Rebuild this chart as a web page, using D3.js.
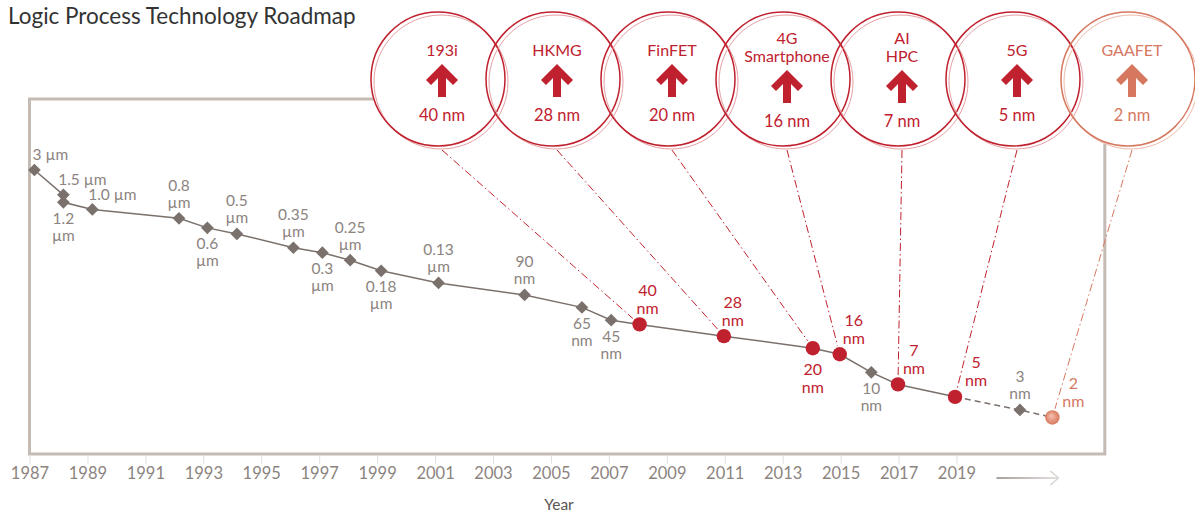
<!DOCTYPE html>
<html>
<head>
<meta charset="utf-8">
<script src="https://cdn.jsdelivr.net/npm/d3@7"></script>
<style>
  body { margin: 0; background: #fff; }
  svg { display: block; font-family: Lato, "Open Sans", sans-serif; }
</style>
</head>
<body>
<svg id="chart" width="1195" height="512"></svg>
<script>
// ---- data ----
// node year (decimal) and position on the hidden vertical axis (0..100)
var nodeYears  = [1987.17, 1988.17, 1988.17, 1989.17, 1992.16, 1993.14, 1994.16, 1996.11, 1997.11, 1998.07, 1999.14, 2001.12,
                  2004.09, 2006.07, 2007.08, 2008.06, 2010.97, 2014.04, 2014.97, 2016.06, 2016.98, 2018.95, 2021.19, 2022.31];
var nodeLevels = [80.0, 73.0, 70.9, 68.9, 66.4, 63.7, 62.0, 58.1, 56.7, 54.6, 51.6, 48.2,
                  44.8, 41.3, 37.7, 36.5, 33.2, 29.8, 28.1, 23.0, 19.6, 16.1, 12.4, 10.3];
var nodeNames  = ["3 µm", "1.5 µm", "1.2\nµm", "1.0 µm", "0.8\nµm", "0.6\nµm", "0.5\nµm", "0.35\nµm", "0.3\nµm", "0.25\nµm", "0.18\nµm", "0.13\nµm",
                  "90\nnm", "65\nnm", "45\nnm", "40\nnm", "28\nnm", "20\nnm", "16\nnm", "10\nnm", "7\nnm", "5\nnm", "3\nnm", "2\nnm"];
// std = grey diamond, key = red milestone, next = upcoming milestone
var nodeKinds  = ["std","std","std","std","std","std","std","std","std","std","std","std",
                  "std","std","std","key","key","key","key","std","key","key","std","next"];
var lastSolid = 21; // line turns dashed after 5 nm

var yearTicks = d3.range(1987, 2020, 2);

var calloutTech  = ["193i", "HKMG", "FinFET", "4G\nSmartphone", "AI\nHPC", "5G", "GAAFET"];
var calloutNode  = ["40 nm", "28 nm", "20 nm", "16 nm", "7 nm", "5 nm", "2 nm"];
var calloutIndex = [15, 16, 17, 18, 20, 21, 23];

// ---- layout (label placement, not data) ----
var labelPlace = ["ar","ar","b","ar","a","b","a","a","b","a","b","a",
                  "a","b","b","ar","ar","b","ar","b","ar","ar","a","ar"];
var labelDx    = [16,19,0,20,0,0,0,0,0,0,0,0,
                  0,0,0,8,9,0,14,0,16,21,0,21];

var RED = "#c0212e", RED_LIGHT = "#e6a0a4";
var SALMON = "#d6785f", SALMON_LIGHT = "#eebaaa";
var GREY = "#7b716c", GREY_TEXT = "#8c8480";
var BOX = "#c4bbb5";

var svg = d3.select("#chart");

var BOX_TOP = 99, BOX_BOTTOM = 454, BOX_END = 2024.12;

var x = d3.scaleLinear().domain([1987, 2019]).range([29.5, 956.5]);
var y = d3.scaleLinear().domain([0, 100]).range([BOX_BOTTOM, BOX_TOP]);

var nodes = nodeYears.map(function(d, i){
	return {year: d, level: nodeLevels[i], name: nodeNames[i], kind: nodeKinds[i], i: i};
});

// ---------------- defs ----------------
var defs = svg.append("defs");
var rg = defs.append("radialGradient").attr("id","nextGrad").attr("fx","40%").attr("fy","38%");
rg.append("stop").attr("offset","0%").attr("stop-color","#f6c4b2");
rg.append("stop").attr("offset","100%").attr("stop-color","#d9785d");

var lg = defs.append("linearGradient").attr("id","arrowGrad");
lg.append("stop").attr("offset","0%").attr("stop-color","#8a817c");
lg.append("stop").attr("offset","100%").attr("stop-color","#dcd7d4");

// ---------------- title ----------------
svg.append("text")
	.text("Logic Process Technology Roadmap")
	.attr("x", 8).attr("y", 24)
	.style("font-size","22.5px")
	.style("fill","#333");

// ---------------- frame ----------------
svg.append("rect")
	.attr("x", x(1987)).attr("y", BOX_TOP)
	.attr("width", x(BOX_END) - x(1987))
	.attr("height", BOX_BOTTOM - BOX_TOP)
	.style("fill","none")
	.style("stroke",BOX)
	.style("stroke-width",3);

// ---------------- x axis ----------------
var gAxis = svg.append("g")
	.attr("transform","translate(0," + (BOX_BOTTOM + 1.5) + ")")
	.call(d3.axisBottom(x).tickValues(yearTicks).tickFormat(d3.format("d")).tickSize(8).tickPadding(4));
gAxis.select(".domain").remove();
gAxis.selectAll(".tick line").style("stroke","#e2dedb");
gAxis.selectAll(".tick text")
	.style("font-family","Lato, sans-serif")
	.style("font-size","16.5px")
	.style("fill",GREY_TEXT);

// arrow after last tick
var ax0 = x(2019) + 40, ax1 = x(2019) + 102, ay = BOX_BOTTOM + 24;
svg.append("path")
	.attr("d","M" + ax0 + "," + ay + "H" + ax1 + "M" + (ax1 - 8) + "," + (ay - 7) + "L" + ax1 + "," + ay + "L" + (ax1 - 8) + "," + (ay + 7))
	.style("fill","none")
	.style("stroke","url(#arrowGrad)")
	.style("stroke-width",1.3);

svg.append("text")
	.text("Year")
	.attr("x", 559).attr("y", 510)
	.style("text-anchor","middle")
	.style("font-size","15.5px")
	.style("fill","#5a5350");

// ---------------- connectors (callout -> node) ----------------
var cx = d3.scalePoint().domain(d3.range(calloutTech.length)).range([442, 1132]);
var C_Y = 79, C_R = 67;

var gLinks = svg.append("g").attr("id","links");
calloutIndex.forEach(function(ni, k){
	var n = nodes[ni];
	var x0 = cx(k), y0 = C_Y + C_R + 4;
	var x1 = x(n.year), y1 = y(n.level);
	var len = Math.hypot(x1 - x0, y1 - y0), cut = 9;
	gLinks.append("line")
		.attr("x1", x0).attr("y1", y0)
		.attr("x2", x1 - (x1 - x0) * cut / len)
		.attr("y2", y1 - (y1 - y0) * cut / len)
		.style("stroke", n.kind == "next" ? SALMON : RED)
		.style("stroke-width", 1)
		.style("stroke-dasharray","8,3,1.5,3");
});

// ---------------- trend line ----------------
var line = d3.line().x(function(d){ return x(d.year); }).y(function(d){ return y(d.level); });
svg.append("path")
	.datum(nodes.slice(0, lastSolid + 1))
	.attr("d", line)
	.style("fill","none").style("stroke",GREY).style("stroke-width",1.5);
svg.append("path")
	.datum(nodes.slice(lastSolid))
	.attr("d", line)
	.style("fill","none").style("stroke",GREY).style("stroke-width",1.5)
	.style("stroke-dasharray","6,4");

// ---------------- nodes ----------------
var gNodes = svg.append("g").attr("id","nodes");
nodes.forEach(function(n){
	var px = x(n.year), py = y(n.level);
	if (n.kind == "std"){
		gNodes.append("rect")
			.attr("x", -4.5).attr("y", -4.5).attr("width", 9).attr("height", 9)
			.attr("transform","translate(" + px + "," + py + ") rotate(45)")
			.style("fill",GREY);
	} else {
		gNodes.append("circle")
			.attr("cx", px).attr("cy", py).attr("r", 7.2)
			.style("fill", n.kind == "key" ? RED : "url(#nextGrad)");
	}
	_drawNodeLabel(n, px, py);
});

function _drawNodeLabel(n, px, py){
	var lines = n.name.split("\n");
	var place = labelPlace[n.i];
	var color = n.kind == "std" ? GREY_TEXT : (n.kind == "key" ? RED : SALMON);
	var size = n.kind == "std" ? 15.5 : 16;
	var lh = n.kind == "std" ? 17 : 18;
	var tx = px + labelDx[n.i], ty;
	if (place == "b") ty = py + (n.kind == "std" ? 16 : 21);
	else if (lines.length == 1) ty = py - 15;
	else ty = py - 16 - lh;
	lines.forEach(function(s, j){
		gNodes.append("text")
			.text(s)
			.attr("x", tx).attr("y", ty + j * lh)
			.attr("dy","0.35em")
			.style("text-anchor","middle")
			.style("font-size", size + "px")
			.style("fill", color);
	});
}

// ---------------- callout circles ----------------
var gCall = svg.append("g").attr("id","callouts");
calloutTech.forEach(function(t, k){
	gCall.append("circle")
		.attr("cx", cx(k) - 3).attr("cy", C_Y + 1.5).attr("r", C_R + 1)
		.style("fill","#fff");
});
calloutTech.forEach(function(t, k){
	var future = calloutIndex[k] == nodes.length - 1;
	var c = future ? SALMON : RED, cl = future ? SALMON_LIGHT : RED_LIGHT;
	var ccx = cx(k);
	gCall.append("circle")
		.attr("cx", ccx - 1).attr("cy", C_Y + 3).attr("r", C_R)
		.style("fill","none").style("stroke",cl).style("stroke-width",1);
	gCall.append("circle")
		.attr("cx", ccx - 4).attr("cy", C_Y).attr("r", C_R)
		.style("fill","none").style("stroke",c).style("stroke-width",1.5);

	var lines = t.split("\n");
	var shift = lines.length > 1 ? 6 : 0;
	lines.forEach(function(s, j){
		gCall.append("text")
			.text(s)
			.attr("x", ccx).attr("y", (lines.length > 1 ? 38 : 50) + j * 18)
			.attr("dy","0.35em")
			.style("text-anchor","middle")
			.style("font-size","16px")
			.style("fill",c);
	});
	// chevron arrow
	gCall.append("path")
		.attr("d","M0,0L16,16L11,21L4,14L4,33L-4,33L-4,14L-11,21L-16,16Z")
		.attr("transform","translate(" + ccx + "," + (64 + shift) + ")")
		.style("fill",c);
	gCall.append("text")
		.text(calloutNode[k])
		.attr("x", ccx).attr("y", 115 + shift)
		.attr("dy","0.35em")
		.style("text-anchor","middle")
		.style("font-size","16.5px")
		.style("fill",c);
});
</script>
</body>
</html>
